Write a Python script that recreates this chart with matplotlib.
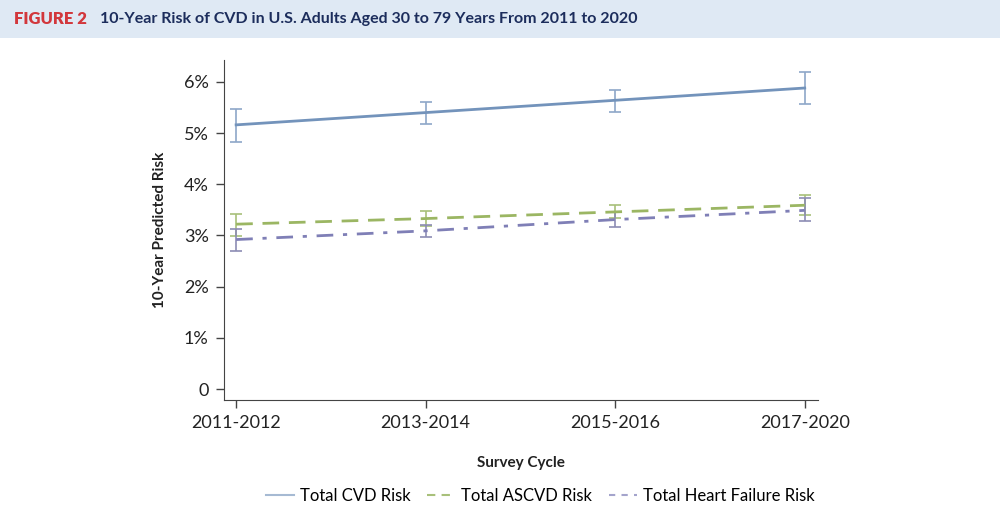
import numpy as np
import matplotlib.pyplot as plt
from matplotlib.patches import Rectangle

# 데이터
cycles = ['2011-2012', '2013-2014', '2015-2016', '2017-2020']
cvd = [5.16, 5.40, 5.64, 5.88]
cvd_lo = [4.82, 5.18, 5.42, 5.56]
cvd_hi = [5.47, 5.61, 5.85, 6.20]
ascvd = [3.22, 3.33, 3.46, 3.59]
ascvd_lo = [2.99, 3.18, 3.35, 3.40]
ascvd_hi = [3.41, 3.48, 3.59, 3.79]
hf = [2.92, 3.09, 3.31, 3.49]
hf_lo = [2.70, 2.97, 3.17, 3.29]
hf_hi = [3.12, 3.20, 3.45, 3.74]
yticks = [0, 1, 2, 3, 4, 5, 6]
ytick_labels = ['0', '1%', '2%', '3%', '4%', '5%', '6%']

plt.rcParams['font.family'] = ['Lato', 'DejaVu Sans']

fig = plt.figure(figsize=(10, 5.25), dpi=100)

# 제목 배경
fig.patches.append(Rectangle((0, 1 - 38 / 525), 1, 38 / 525, transform=fig.transFigure,
                             facecolor='#dfe9f4', edgecolor='none', zorder=0))
fig.text(0.014, 1 - 19 / 525, 'FIGURE 2', color='#d2373c', fontsize=12, fontweight='heavy',
         va='center', ha='left')
fig.text(0.100, 1 - 19 / 525, '10-Year Risk of CVD in U.S. Adults Aged 30 to 79 Years From 2011 to 2020',
         color='#1c2d5c', fontsize=11.5, fontweight='bold', va='center', ha='left')

ax = fig.add_axes([0.224, 0.238, 0.594, 0.648])
x = np.arange(len(cycles))


def draw(vals, lo, hi, color, ecolor, dashes, label):
    vals = np.array(vals)
    err = [vals - np.array(lo), np.array(hi) - vals]
    ax.errorbar(x, vals, yerr=err, fmt='none', ecolor=ecolor, elinewidth=1.2,
                capsize=4, capthick=1.2, zorder=2)
    line, = ax.plot(x, vals, color=color, linewidth=2, label=label, zorder=3)
    if dashes:
        line.set_dashes(dashes)
    return line


draw(cvd, cvd_lo, cvd_hi, '#7393bb', '#8ea7c8', None, 'Total CVD Risk')
draw(ascvd, ascvd_lo, ascvd_hi, '#9bb663', '#a8c07a', (6, 3.5), 'Total ASCVD Risk')
draw(hf, hf_lo, hf_hi, '#7f7fb6', '#8c8cb4', (6, 3.5, 1.5, 3.5), 'Total Heart Failure Risk')

ax.set_xlim(-0.064, 3.07)
ax.set_ylim(-0.215, 6.43)
ax.set_xticks(x)
ax.set_xticklabels(cycles, fontsize=13, color='#222222')
ax.set_yticks(yticks)
ax.set_yticklabels(ytick_labels, fontsize=13, color='#222222')
ax.tick_params(axis='both', direction='out', length=6, width=1, color='#444444', pad=5)
ax.spines['top'].set_visible(False)
ax.spines['right'].set_visible(False)
ax.spines['left'].set_color('#444444')
ax.spines['bottom'].set_color('#444444')

ax.set_ylabel('10-Year Predicted Risk', fontsize=11, fontweight='bold', color='#222222', labelpad=12)
ax.set_xlabel('Survey Cycle', fontsize=11, fontweight='bold', color='#222222', labelpad=18)

leg = fig.legend(loc='center', bbox_to_anchor=(0.54, 1 - 496 / 525), ncol=3, frameon=False,
                 fontsize=12, handlelength=1.7, columnspacing=1.0, handletextpad=0.35)
for h, c in zip(leg.get_lines(), ['#a6bad3', '#a8c07a', '#a4a4cc']):
    h.set_linewidth(1.5)
    h.set_color(c)
leg.get_lines()[1].set_dashes((4, 3))
leg.get_lines()[2].set_dashes((3, 3))

fig.savefig('out.png', dpi=100)
